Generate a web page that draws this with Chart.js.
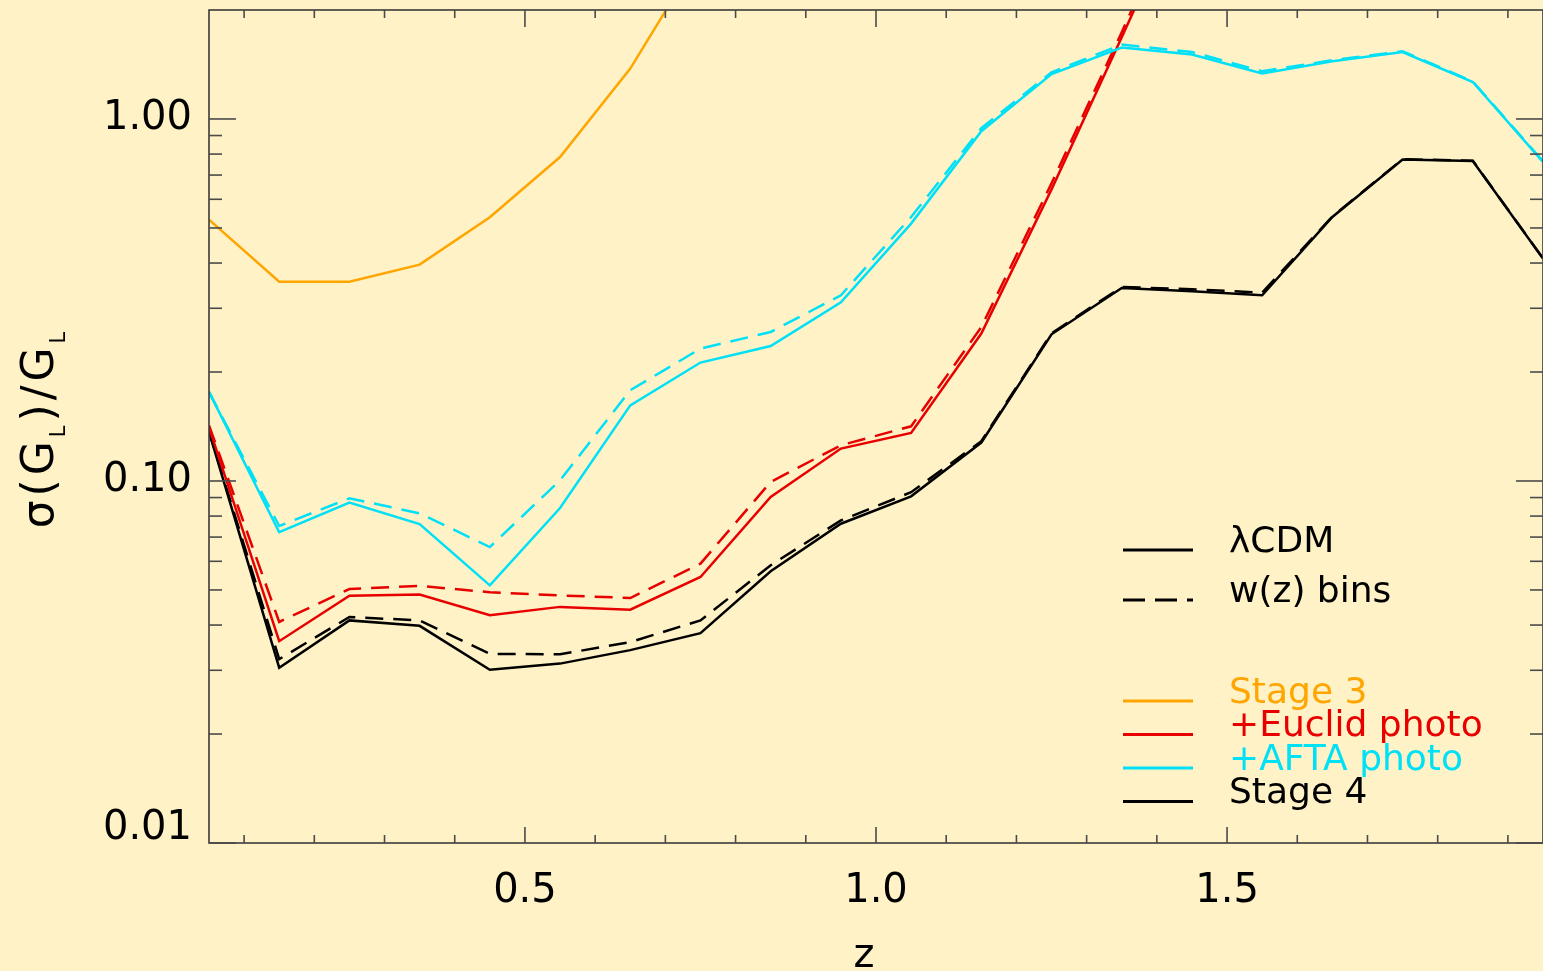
<!DOCTYPE html>
<html>
<head>
<meta charset="utf-8">
<title>sigma(G_L)/G_L vs z</title>
<script src="https://cdn.jsdelivr.net/npm/chart.js@4.4.1/dist/chart.umd.min.js"></script>
<style>
  html, body { margin: 0; padding: 0; background: #fef2c6; }
  canvas { display: block; }
</style>
</head>
<body>
<canvas id="growth" width="1543" height="971"></canvas>
<script>
// Redshift bin centres
const z = [0.05, 0.15, 0.25, 0.35, 0.45, 0.55, 0.65, 0.75, 0.85, 0.95,
           1.05, 1.15, 1.25, 1.35, 1.45, 1.55, 1.65, 1.75, 1.85, 1.95];

// Fractional error sigma(G_L)/G_L per bin; "W" = w(z) bins model
const stage3  = [0.527, 0.355, 0.355, 0.396, 0.535, 0.785, 1.378, 2.86];
const euclid  = [0.1407, 0.0361, 0.0482, 0.0486, 0.0426, 0.0449, 0.0441, 0.0543, 0.0904, 0.1229,
                 0.1357, 0.2554, 0.639, 1.681, 4.5];
const euclidW = [0.1425, 0.0408, 0.0503, 0.0513, 0.0493, 0.0483, 0.0475, 0.0591, 0.0994, 0.1255,
                 0.1416, 0.2663, 0.664, 1.736, 4.7];
const afta    = [0.1762, 0.0722, 0.0872, 0.0760, 0.0515, 0.0842, 0.1618, 0.2124, 0.2360, 0.3116,
                 0.514, 0.925, 1.331, 1.575, 1.506, 1.335, 1.443, 1.531, 1.265, 0.7605];
const aftaW   = [0.1762, 0.0751, 0.0896, 0.0814, 0.0657, 0.1004, 0.1781, 0.2321, 0.2580, 0.3258,
                 0.536, 0.943, 1.346, 1.605, 1.531, 1.354, 1.453, 1.538, 1.270, 0.764];
const stage4  = [0.1366, 0.0305, 0.0412, 0.0398, 0.0301, 0.0313, 0.0341, 0.0380, 0.0563, 0.0762,
                 0.0907, 0.1277, 0.2542, 0.3413, 0.3342, 0.3258, 0.536, 0.7722, 0.7655, 0.4115];
const stage4W = [0.137, 0.0322, 0.0421, 0.0412, 0.0333, 0.0332, 0.0359, 0.0412, 0.0585, 0.0778,
                 0.0931, 0.1288, 0.2559, 0.3435, 0.3385, 0.3314, 0.538, 0.774, 0.767, 0.412];

// Axis ticks
const xMajor = [0.5, 1.0, 1.5];
const xMinor = [0.1, 0.2, 0.3, 0.4, 0.6, 0.7, 0.8, 0.9, 1.1, 1.2, 1.3, 1.4, 1.6, 1.7, 1.8, 1.9];
const yMajor = [0.01, 0.1, 1];
const yMinor = [0.02, 0.03, 0.04, 0.05, 0.06, 0.07, 0.08, 0.09,
                0.2, 0.3, 0.4, 0.5, 0.6, 0.7, 0.8, 0.9];

// Legend text
const modelNames  = ['\u03bbCDM', 'w(z) bins'];
const surveyNames = ['Stage 3', '+Euclid photo', '+AFTA photo', 'Stage 4'];

const FONT = "'DejaVu Sans', 'Liberation Sans', sans-serif";
const BG = '#fef2c6';
const COLORS = { stage3: '#ffa500', euclid: '#e80000', afta: '#00e0f6', stage4: '#000000' };
const DASH = [18, 10];

function series(label, vals, color, dashed) {
  return {
    label,
    data: vals.map((v, i) => ({ x: z[i], y: v })),
    borderColor: color,
    backgroundColor: color,
    borderWidth: 2.5,
    borderDash: dashed ? DASH : [],
    pointRadius: 0,
    tension: 0,
    fill: false
  };
}

const datasets = [
  series(surveyNames[2], afta, COLORS.afta, false),
  series(surveyNames[2], aftaW, COLORS.afta, true),
  series(surveyNames[0], stage3, COLORS.stage3, false),
  series(surveyNames[1], euclid, COLORS.euclid, false),
  series(surveyNames[1], euclidW, COLORS.euclid, true),
  series(surveyNames[3], stage4, COLORS.stage4, false),
  series(surveyNames[3], stage4W, COLORS.stage4, true)
];

// Page background, inward tick marks on all four sides, axis titles and the legend
const decorations = {
  id: 'decorations',
  beforeDraw(chart) {
    const ctx = chart.ctx;
    ctx.save();
    ctx.fillStyle = BG;
    ctx.fillRect(0, 0, chart.width, chart.height);
    ctx.restore();
  },
  afterDraw(chart) {
    const { ctx, chartArea: a, scales: { x, y } } = chart;
    ctx.save();

    // frame
    ctx.strokeStyle = '#3a3a3a';
    ctx.lineWidth = 1.6;
    ctx.strokeRect(a.left, a.top, a.right - a.left, a.bottom - a.top);

    // ticks
    const seg = (x0, y0, x1, y1) => { ctx.beginPath(); ctx.moveTo(x0, y0); ctx.lineTo(x1, y1); ctx.stroke(); };
    ctx.strokeStyle = '#4a4a4a';
    ctx.lineWidth = 1.6;
    x.ticks.forEach(t => {
      const px = x.getPixelForValue(t.value);
      const major = xMajor.includes(t.value);
      seg(px, a.bottom, px, a.bottom - (major ? 16 : 8));
      seg(px, a.top, px, a.top + (major ? 17 : 8));
    });
    y.ticks.forEach(t => {
      const py = y.getPixelForValue(t.value);
      const major = yMajor.includes(t.value);
      seg(a.left, py, a.left + (major ? 27 : 13), py);
      seg(a.right, py, a.right - (major ? 27 : 13), py);
    });

    // x title
    ctx.fillStyle = '#000';
    ctx.font = `40px ${FONT}`;
    ctx.textAlign = 'center';
    ctx.textBaseline = 'alphabetic';
    ctx.fillText('z', 864, 967);

    // y title: sigma(G_L)/G_L with subscripts, rotated
    const parts = [
      { t: '\u03c3(G', size: 44, dy: 0 },
      { t: 'L', size: 21, dy: 12 },
      { t: ')/G', size: 44, dy: 0 },
      { t: 'L', size: 21, dy: 12 }
    ];
    ctx.save();
    ctx.translate(53, 428);
    ctx.rotate(-Math.PI / 2);
    ctx.textAlign = 'left';
    ctx.letterSpacing = '4px';
    let total = 0;
    parts.forEach(p => { ctx.font = `${p.size}px ${FONT}`; p.w = ctx.measureText(p.t).width; total += p.w; });
    let cx = -total / 2;
    parts.forEach(p => { ctx.font = `${p.size}px ${FONT}`; ctx.fillText(p.t, cx, p.dy); cx += p.w; });
    ctx.restore();

    // legend
    const lx0 = 1123, lx1 = 1193, tx = 1229;
    const rows = [
      { text: modelNames[0], color: '#000', dash: [], y: 550 },
      { text: modelNames[1], color: '#000', dash: [22, 10], y: 600 },
      { text: surveyNames[0], color: COLORS.stage3, dash: [], y: 701 },
      { text: surveyNames[1], color: COLORS.euclid, dash: [], y: 734.5 },
      { text: surveyNames[2], color: COLORS.afta, dash: [], y: 768 },
      { text: surveyNames[3], color: COLORS.stage4, dash: [], y: 801.5 }
    ];
    ctx.font = `36px ${FONT}`;
    ctx.textAlign = 'left';
    ctx.textBaseline = 'alphabetic';
    rows.forEach(r => {
      ctx.strokeStyle = r.color;
      ctx.lineWidth = 3;
      ctx.setLineDash(r.dash);
      seg(lx0, r.y, lx1, r.y);
      ctx.setLineDash([]);
      ctx.fillStyle = r.color;
      ctx.fillText(r.text, tx, r.y + 1.5);
    });

    ctx.restore();
  }
};

new Chart(document.getElementById('growth'), {
  type: 'line',
  data: { datasets },
  plugins: [decorations],
  options: {
    responsive: false,
    animation: false,
    devicePixelRatio: 1,
    layout: { padding: { top: 10, left: 0, right: 0, bottom: 0 } },
    plugins: { legend: { display: false }, tooltip: { enabled: false } },
    scales: {
      x: {
        type: 'linear',
        position: 'bottom',
        min: 0.05,
        max: 1.95,
        afterBuildTicks: s => { s.ticks = [...xMinor, ...xMajor].sort((p, q) => p - q).map(v => ({ value: v })); },
        afterFit: s => { s.height = 128; s.paddingLeft = 0; s.paddingRight = 0; },
        grid: { display: false, drawTicks: false },
        border: { display: false },
        ticks: {
          autoSkip: false,
          maxRotation: 0,
          padding: 25,
          color: '#000',
          font: { family: FONT, size: 40 },
          callback: v => (xMajor.includes(v) ? v.toFixed(1) : '')
        }
      },
      y: {
        type: 'logarithmic',
        position: 'left',
        min: 0.01,
        max: 2,
        afterBuildTicks: s => { s.ticks = [...yMinor, ...yMajor].sort((p, q) => p - q).map(v => ({ value: v })); },
        afterFit: s => { s.width = 209; s.paddingTop = 0; s.paddingBottom = 0; },
        grid: { display: false, drawTicks: false },
        border: { display: false },
        ticks: {
          autoSkip: false,
          padding: 17,
          color: '#000',
          font: c => ({
            family: FONT,
            size: 40,
            lineHeight: (c.tick && c.tick.value === yMajor[0]) ? '28px' : 1.2
          }),
          callback: v => {
            if (!yMajor.includes(v)) return '';
            return v === yMajor[0] ? [v.toFixed(2), ''] : v.toFixed(2);
          }
        }
      }
    }
  }
});
</script>
</body>
</html>
